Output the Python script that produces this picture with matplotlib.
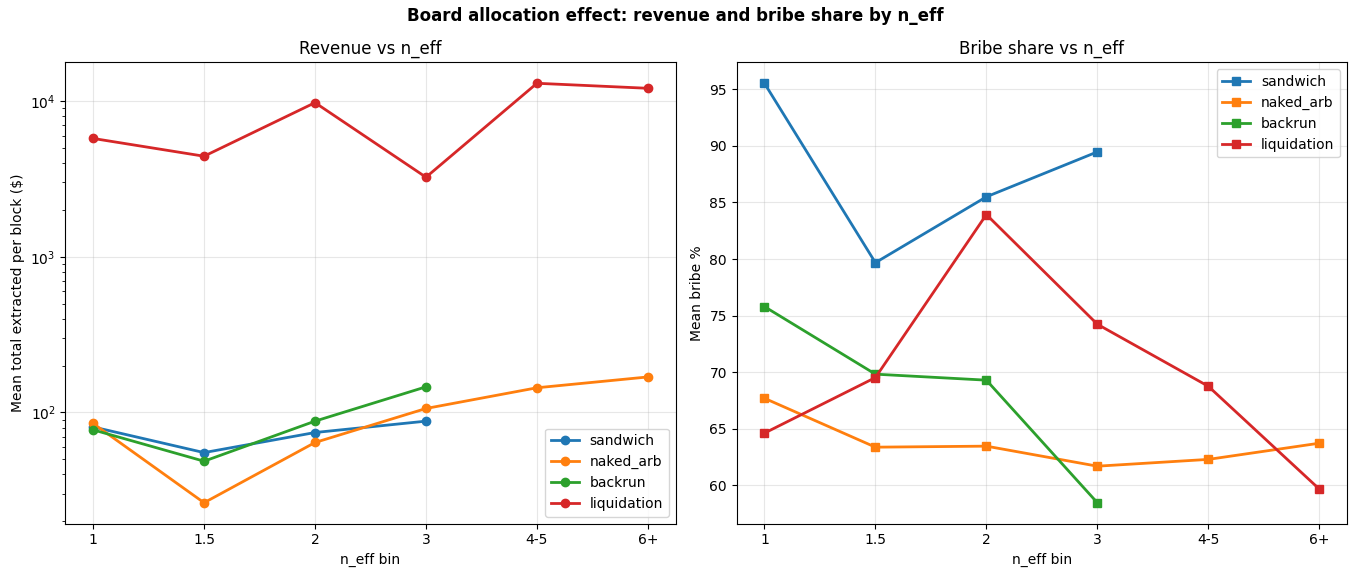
import numpy as np
import matplotlib.pyplot as plt

bins = ['1', '1.5', '2', '3', '4-5', '6+']
types = ['sandwich', 'naked_arb', 'backrun', 'liquidation']

# revenue per block ($), None where the bin is empty
rev_sandwich = [80.7, 55.2, 74.3, 87.9, None, None]
rev_naked_arb = [85, 26.3, 64.1, 106, 144, 169]
rev_backrun = [77.3, 48.6, 87.9, 146, None, None]
rev_liquidation = [5750, 4420, 9760, 3240, 13000, 12070]

# mean bribe %
bribe_sandwich = [95.53, 79.68, 85.5, 89.47, None, None]
bribe_naked_arb = [67.7, 63.38, 63.47, 61.7, 62.3, 63.73]
bribe_backrun = [75.8, 69.83, 69.3, 58.47, None, None]
bribe_liquidation = [64.62, 69.53, 83.93, 74.24, 68.76, 59.68]

rev = [rev_sandwich, rev_naked_arb, rev_backrun, rev_liquidation]
bribe = [bribe_sandwich, bribe_naked_arb, bribe_backrun, bribe_liquidation]


def clean(vals):
    x = [i for i, v in enumerate(vals) if v is not None]
    y = [v for v in vals if v is not None]
    return x, y


fig, (ax1, ax2) = plt.subplots(1, 2, figsize=(13.5, 5.7), dpi=100)

for name, vals in zip(types, rev):
    x, y = clean(vals)
    ax1.plot(x, y, marker='o', linewidth=2, label=name)
ax1.set_yscale('log')
ax1.set_xticks(range(len(bins)))
ax1.set_xticklabels(bins)
ax1.set_xlabel('n_eff bin')
ax1.set_ylabel('Mean total extracted per block ($)')
ax1.set_title('Revenue vs n_eff')
ax1.legend(loc='lower right')
ax1.grid(True, alpha=0.3)

for name, vals in zip(types, bribe):
    x, y = clean(vals)
    ax2.plot(x, y, marker='s', linewidth=2, label=name)
ax2.set_xticks(range(len(bins)))
ax2.set_xticklabels(bins)
ax2.set_xlabel('n_eff bin')
ax2.set_ylabel('Mean bribe %')
ax2.set_title('Bribe share vs n_eff')
ax2.legend(loc='upper right')
ax2.grid(True, alpha=0.3)

fig.suptitle('Board allocation effect: revenue and bribe share by n_eff',
             fontweight='bold', y=0.987)
fig.subplots_adjust(left=0.0484, right=0.9978, top=0.8907, bottom=0.0812, wspace=0.1)
fig.savefig('out.png')
